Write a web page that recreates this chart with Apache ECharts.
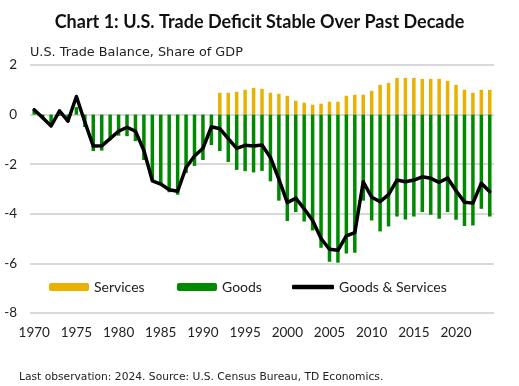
<!DOCTYPE html>
<html><head><meta charset="utf-8">
<script src="https://cdn.jsdelivr.net/npm/echarts@6/dist/echarts.min.js"></script>
<style>html,body{margin:0;padding:0;background:#fff}#c{width:519px;height:386px}</style>
</head><body><div id="c"></div>
<script>
const years = [];
for (let y = 1970; y <= 2024; y++) years.push(String(y));

const goods = [0.2,-0.15,-0.35,-0.05,-0.3,0.3,-0.5,-1.47,-1.45,-1.03,
  -0.85,-0.87,-1.07,-1.83,-2.65,-2.8,-3.13,-3.23,-2.36,-2.07,
  -1.83,-1.23,-1.47,-1.91,-2.23,-2.28,-2.33,-2.27,-2.69,-3.47,
  -4.29,-3.93,-4.31,-4.67,-5.37,-5.93,-5.97,-5.6,-5.57,-3.47,
  -4.27,-4.71,-4.51,-4.11,-4.23,-4.11,-3.93,-4.04,-4.2,-3.93,
  -4.24,-4.49,-4.47,-3.8,-4.11];

const services = [null,null,null,null,null,null,null,null,null,null,
  null,null,null,null,null,null,null,null,null,null,
  null,null,0.88,0.88,0.92,1.0,1.08,1.04,0.88,0.84,
  0.76,0.56,0.48,0.4,0.44,0.52,0.52,0.76,0.8,0.8,
  0.96,1.2,1.28,1.48,1.48,1.48,1.44,1.44,1.44,1.36,
  1.2,1.0,0.88,1.0,1.0];

const total = [0.2,-0.13,-0.46,0.15,-0.26,0.73,-0.3,-1.27,-1.26,-0.97,
  -0.67,-0.51,-0.67,-1.45,-2.67,-2.8,-3.03,-3.09,-2.13,-1.67,
  -1.36,-0.49,-0.57,-0.97,-1.36,-1.24,-1.27,-1.23,-1.73,-2.6,
  -3.55,-3.37,-3.8,-4.27,-5.0,-5.43,-5.47,-4.89,-4.76,-2.71,
  -3.33,-3.51,-3.23,-2.64,-2.71,-2.64,-2.51,-2.57,-2.73,-2.56,
  -3.07,-3.53,-3.57,-2.77,-3.11];

const yTicks = [-8,-6,-4,-2,0,2];

const FONT = 'Lato';
const WIDE = 'DejaVu Sans';
const chart = echarts.init(document.getElementById('c'));
chart.setOption({
  animation: false,
  backgroundColor: '#ffffff',
  title: [
    {text: 'Chart 1: U.S. Trade Deficit Stable Over Past Decade', left: 'center', top: 8,
     textStyle: {fontFamily: FONT, fontWeight: 'bold', fontSize: 18, color: '#111'}},
    {text: 'U.S. Trade Balance, Share of GDP', left: 25, top: 41,
     textStyle: {fontFamily: WIDE, fontWeight: 'normal', fontSize: 12.8, color: '#222'}},
    {text: 'Last observation: 2024. Source: U.S. Census Bureau, TD Economics.', left: 14, top: 367,
     textStyle: {fontFamily: WIDE, fontWeight: 'normal', fontSize: 10.7, color: '#222'}}
  ],
  legend: [
    {data: ['Services'], left: 44, top: 275, itemWidth: 40, itemHeight: 8,
     textStyle: {fontFamily: FONT, fontSize: 14, color: '#222'}},
    {data: ['Goods'], left: 172, top: 275, itemWidth: 40, itemHeight: 8,
     textStyle: {fontFamily: FONT, fontSize: 14, color: '#222'}},
    {data: [{name: 'Goods & Services', icon: 'roundRect'}], left: 287, top: 275, itemWidth: 42, itemHeight: 4.5,
     textStyle: {fontFamily: FONT, fontSize: 14, color: '#222'}}
  ],
  grid: {left: 30, right: 25, top: 65, bottom: 73},
  xAxis: {
    type: 'category', data: years, boundaryGap: true,
    axisLine: {show: false}, axisTick: {show: false},
    axisLabel: {interval: 4, fontFamily: FONT, fontSize: 13.5, color: '#222', margin: 13},
    splitLine: {show: false}
  },
  yAxis: {
    type: 'value', min: -8, max: 2, interval: 2,
    axisLine: {show: false}, axisTick: {show: false},
    axisLabel: {fontFamily: FONT, fontSize: 13.5, color: '#222', margin: 13,
      formatter: v => yTicks.indexOf(v) >= 0 ? String(v) : ''},
    splitLine: {lineStyle: {color: '#d9d9d9', width: 2}}
  },
  series: [
    {name: 'Services', type: 'bar', stack: 'b', data: services, barWidth: 3.5,
     itemStyle: {color: '#E9B200'}},
    {name: 'Goods', type: 'bar', stack: 'b', data: goods, barWidth: 3.5,
     itemStyle: {color: '#008A00'}},
    {name: 'Goods & Services', type: 'line', data: total, symbol: 'none',
     lineStyle: {color: '#000', width: 3.5, cap: 'round', join: 'round'},
     itemStyle: {color: '#000'}, z: 5}
  ]
});
</script></body></html>
